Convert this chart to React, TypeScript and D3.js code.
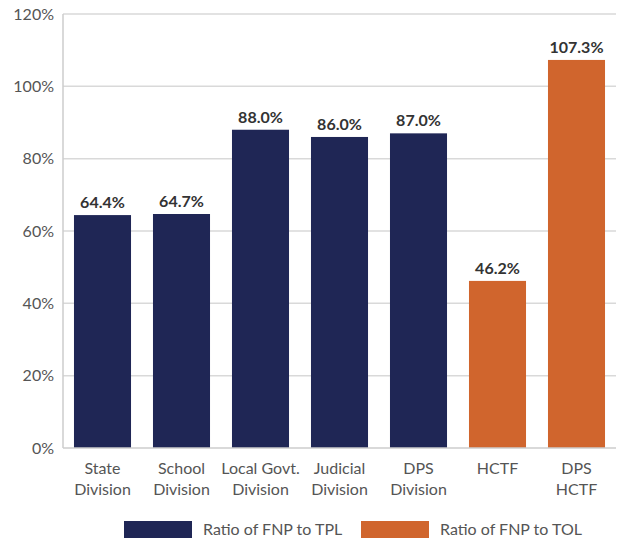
import React from "react";
import * as d3 from "d3";

const categories = [
  ["State", "Division"],
  ["School", "Division"],
  ["Local Govt.", "Division"],
  ["Judicial", "Division"],
  ["DPS", "Division"],
  ["HCTF"],
  ["DPS", "HCTF"],
];
const values = [64.4, 64.7, 88.0, 86.0, 87.0, 46.2, 107.3];
const seriesOf = [0, 0, 0, 0, 0, 1, 1];
const seriesNames = ["Ratio of FNP to TPL", "Ratio of FNP to TOL"];
const seriesColors = ["#1f2655", "#d0652d"];
const yTicks = [0, 20, 40, 60, 80, 100, 120];

const W = 617;
const H = 540;
const left = 63;
const right = 616;
const top = 14;
const bottom = 448;
const font = "Lato, 'Open Sans', sans-serif";

export default function App() {
  const x = d3
    .scaleBand<number>()
    .domain(values.map((_, i) => i))
    .range([left, right])
    .paddingInner(0.278)
    .paddingOuter(0.139);
  const y = d3.scaleLinear().domain([0, 120]).range([bottom, top]);

  return (
    <svg width={W} height={H} style={{ position: "absolute", left: 0, top: 0 }}>
      <rect width={W} height={H} fill="#fff" />
      {yTicks.map((t) => (
        <g key={t}>
          {t > 0 && (
            <line x1={left} x2={right} y1={y(t)} y2={y(t)} stroke="#d9d9d9" strokeWidth={1.5} />
          )}
          <text
            x={54}
            y={y(t)}
            dy="0.35em"
            textAnchor="end"
            fontFamily={font}
            fontSize={16}
            fill="#555"
          >
            {t}%
          </text>
        </g>
      ))}
      {values.map((v, i) => (
        <g key={i}>
          <rect
            x={x(i)}
            y={y(v)}
            width={x.bandwidth()}
            height={bottom - y(v)}
            fill={seriesColors[seriesOf[i]]}
          />
          <text
            x={(x(i) as number) + x.bandwidth() / 2}
            y={y(v) - 7}
            textAnchor="middle"
            fontFamily={font}
            fontWeight="bold"
            fontSize={16}
            fill="#333"
          >
            {v.toFixed(1)}%
          </text>
          {categories[i].map((line, j) => (
            <text
              key={j}
              x={(x(i) as number) + x.bandwidth() / 2}
              y={474 + j * 21}
              textAnchor="middle"
              fontFamily={font}
              fontSize={16}
              fill="#555"
            >
              {line}
            </text>
          ))}
        </g>
      ))}
      <line x1={left} x2={left} y1={top} y2={bottom} stroke="#cccccc" strokeWidth={1.5} />
      <line x1={left} x2={right} y1={bottom} y2={bottom} stroke="#cccccc" strokeWidth={1.5} />
      {seriesNames.map((name, k) => {
        const lx = [124, 361][k];
        return (
          <g key={name}>
            <rect x={lx} y={521} width={68} height={17} fill={seriesColors[k]} />
            <text x={lx + 79} y={535} fontFamily={font} fontSize={16} fill="#555">
              {name}
            </text>
          </g>
        );
      })}
    </svg>
  );
}
